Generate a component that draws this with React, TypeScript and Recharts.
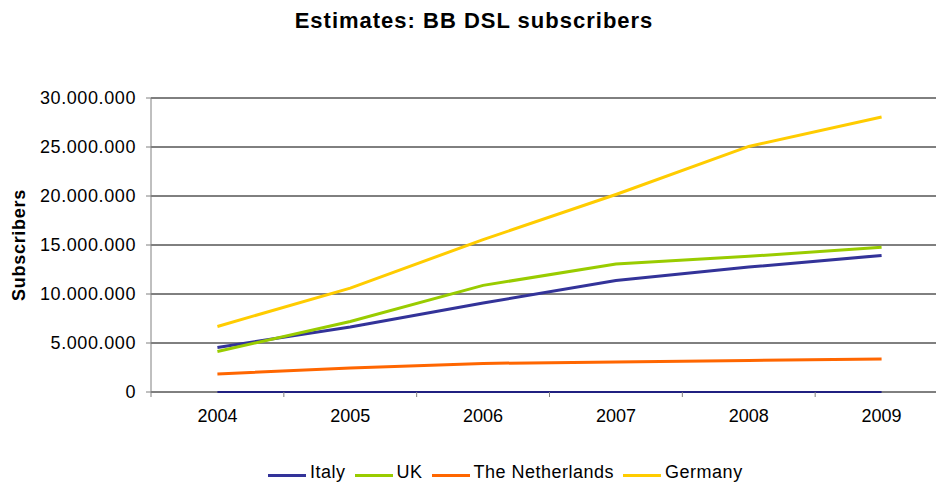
import { LineChart, Line, XAxis, YAxis, CartesianGrid } from "recharts"

const years = ["2004", "2005", "2006", "2007", "2008", "2009"]
const italy = [4550000, 6630000, 9080000, 11380000, 12750000, 13940000]
const uk = [4140000, 7200000, 10880000, 13060000, 13840000, 14760000]
const netherlands = [1840000, 2450000, 2920000, 3060000, 3220000, 3370000]
const germany = [6690000, 10600000, 15550000, 20150000, 25060000, 28060000]
// hidden helper series drawn along the zero line (not in legend)
const baseline = [0, 0, 0, 0, 0, 0]

const yTicks = [0, 5000000, 10000000, 15000000, 20000000, 25000000, 30000000]
// category centres get labels, half steps get tick marks (Excel style "between" ticks)
const xTicks = [-0.5, 0, 0.5, 1, 1.5, 2, 2.5, 3, 3.5, 4, 4.5, 5, 5.5]

const series = [
  { key: "italy", name: "Italy", color: "#333399" },
  { key: "uk", name: "UK", color: "#99CC00" },
  { key: "netherlands", name: "The Netherlands", color: "#FF6600" },
  { key: "germany", name: "Germany", color: "#FFCC00" },
]

const data = years.map((y, i) => ({
  idx: i,
  year: y,
  italy: italy[i],
  uk: uk[i],
  netherlands: netherlands[i],
  germany: germany[i],
  baseline: baseline[i],
}))

const font = "Arial, 'Liberation Sans', sans-serif"

const fmt = (v: number) => String(v).replace(/\B(?=(\d{3})+(?!\d))/g, ".")

function XTick(props: any) {
  const { x, y, payload } = props
  const v = payload.value as number
  if (Number.isInteger(v)) {
    return (
      <text
        x={x}
        y={y + 17}
        dy="0.71em"
        textAnchor="middle"
        fontSize={18}
        fontFamily={font}
        fill="#000"
      >
        {years[v]}
      </text>
    )
  }
  return <line x1={x} x2={x} y1={y} y2={y + 5} stroke="#808080" />
}

export default function App() {
  return (
    <div
      style={{
        position: "fixed",
        left: 0,
        top: 0,
        width: 936,
        height: 485,
        overflow: "hidden",
        background: "#fff",
        fontFamily: font,
      }}
    >
      <div
        style={{
          position: "absolute",
          left: 0,
          width: 948,
          top: 8,
          textAlign: "center",
          fontWeight: "bold",
          fontSize: 22,
          letterSpacing: 1,
          color: "#000",
        }}
      >
        Estimates: BB DSL subscribers
      </div>
      <div
        style={{
          position: "absolute",
          left: 19,
          top: 245,
          transform: "translate(-50%, -50%) rotate(-90deg)",
          fontWeight: "bold",
          fontSize: 18,
          letterSpacing: 0.7,
          whiteSpace: "nowrap",
          color: "#000",
        }}
      >
        Subscribers
      </div>
      <LineChart
        width={950}
        height={485}
        data={data}
        margin={{ top: 98, right: 2, left: 0, bottom: 63 }}
      >
        <CartesianGrid vertical={false} stroke="#000" strokeWidth={1} />
        <XAxis
          dataKey="idx"
          type="number"
          domain={[-0.5, 5.5]}
          ticks={xTicks}
          interval={0}
          height={30}
          tickSize={0}
          tickMargin={0}
          tickLine={false}
          axisLine={{ stroke: "#808080" }}
          tick={<XTick />}
        />
        <YAxis
          width={151}
          domain={[0, 30000000]}
          ticks={yTicks}
          interval={0}
          tickFormatter={fmt}
          tickSize={5}
          tickMargin={10}
          axisLine={{ stroke: "#808080" }}
          tickLine={{ stroke: "#808080" }}
          tick={{ fontSize: 18, fill: "#000", fontFamily: font, letterSpacing: 0.6 }}
        />
        <Line
          dataKey="baseline"
          stroke="#000080"
          strokeWidth={1.5}
          dot={false}
          legendType="none"
          isAnimationActive={false}
          {...({ zIndex: 600 } as any)}
        />
        {series.map((s) => (
          <Line
            key={s.key}
            dataKey={s.key}
            name={s.name}
            stroke={s.color}
            strokeWidth={3}
            dot={false}
            isAnimationActive={false}
          />
        ))}
      </LineChart>
      <div
        style={{
          position: "absolute",
          left: 268,
          top: 462,
          display: "flex",
          alignItems: "center",
          fontSize: 18,
          letterSpacing: 0.5,
          color: "#000",
          whiteSpace: "nowrap",
        }}
      >
        {series.map((s) => (
          <div key={s.key} style={{ display: "flex", alignItems: "center", marginRight: 9 }}>
            <span
              style={{
                display: "inline-block",
                width: 38,
                height: 3,
                background: s.color,
                marginRight: 4,
                marginTop: 5,
              }}
            />
            <span>{s.name}</span>
          </div>
        ))}
      </div>
    </div>
  )
}
